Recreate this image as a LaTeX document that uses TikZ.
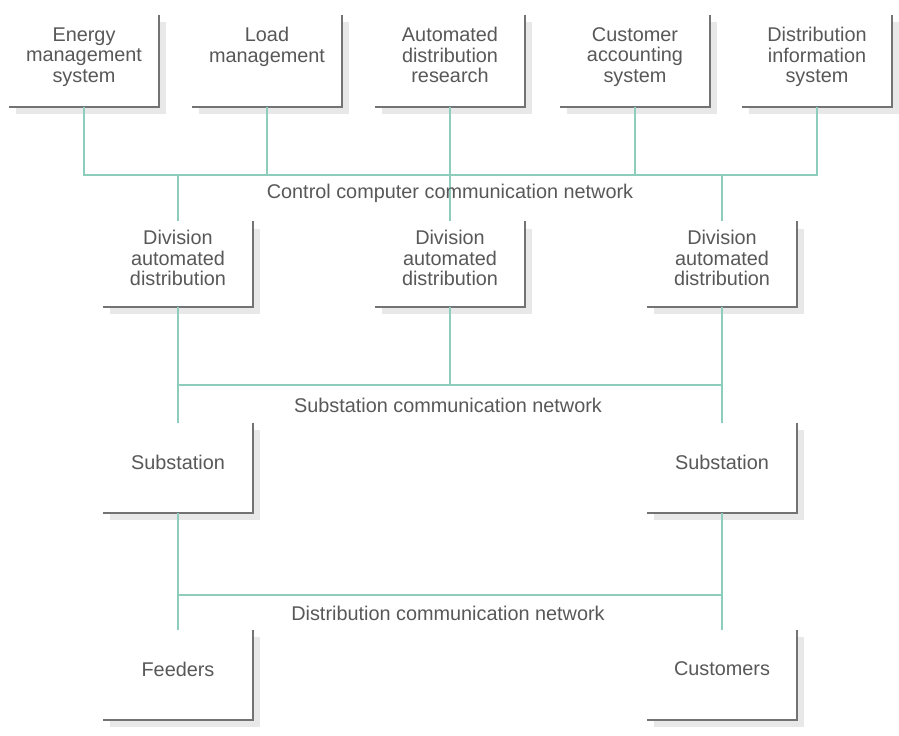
\documentclass[tikz,border=0pt]{standalone}
\usepackage{fontspec}
\setmainfont{Liberation Sans}
\usetikzlibrary{calc,shadows}

\definecolor{netgreen}{RGB}{140,205,188}
\definecolor{inkgray}{RGB}{88,88,88}
\definecolor{rimgray}{RGB}{115,115,115}

\tikzset{
  panel/.style={fill=white,minimum width=3cm,minimum height=1.8cm,align=center,text depth=7pt,
    drop shadow={shadow xshift=4pt,shadow yshift=-4pt,opacity=.18}},
  rim/.style={draw=rimgray,line width=1.1pt},
  net/.style={draw=netgreen,line width=.8pt}
}

\begin{document}
\begin{tikzpicture}[x=0.02cm,y=-0.02cm,font=\fontsize{11.3}{11.6}\selectfont,text=inkgray]
\useasboundingbox (0,0) rectangle (899,736);

% top row
\node[panel,minimum height=1.84cm] (ems) at (84,61) {Energy\\management\\system};
\node[panel,minimum height=1.84cm,text depth=18.4pt] (lm) at (267,61) {Load\\management};
\node[panel,minimum height=1.84cm] (adr) at (450,61) {Automated\\distribution\\research};
\node[panel,minimum height=1.84cm] (cas) at (635,61) {Customer\\accounting\\system};
\node[panel,minimum height=1.84cm] (dis) at (817,61) {Distribution\\information\\system};

% division level
\node[panel,minimum height=1.7cm] (div1) at (178,264) {Division\\automated\\distribution};
\node[panel,minimum height=1.7cm] (div2) at (450,264) {Division\\automated\\distribution};
\node[panel,minimum height=1.7cm] (div3) at (722,264) {Division\\automated\\distribution};

% substations and below
\node[panel] (sub1) at (178,468) {Substation};
\node[panel] (sub2) at (722,468) {Substation};
\node[panel] (feed) at (178,675) {Feeders};
\node[panel] (cust) at (722,675) {Customers};

\foreach \n in {ems,lm,adr,cas,dis,div1,div2,div3,sub1,sub2,feed,cust}{
  \draw[rim] (\n.north east) -- (\n.south east) -- (\n.south west);
}

\coordinate (ctlbus) at (0,175);
\coordinate (subbus) at (0,385);
\coordinate (distbus) at (0,595);

\draw[net] (ems.south) -- (ems.south |- ctlbus) -- (dis.south |- ctlbus) -- (dis.south);
\foreach \n in {lm,adr,cas}{
  \draw[net] (\n.south) -- (\n.south |- ctlbus);
}
\foreach \n in {div1,div2,div3}{
  \draw[net] (\n.north |- ctlbus) -- (\n.north);
}
\node (ctlnet) at (450,193) {Control computer communication network};

\draw[net] (div1.south) -- (sub1.north);
\draw[net] (div3.south) -- (sub2.north);
\draw[net] (div2.south) -- (div2.south |- subbus);
\draw[net] (div1.south |- subbus) -- (div3.south |- subbus);
\node (subnet) at (448,405) {Substation communication network};

\draw[net] (sub1.south) -- (feed.north);
\draw[net] (sub2.south) -- (cust.north);
\draw[net] (sub1.south |- distbus) -- (sub2.south |- distbus);
\node (distnet) at (448,613) {Distribution communication network};
\end{tikzpicture}
\end{document}
